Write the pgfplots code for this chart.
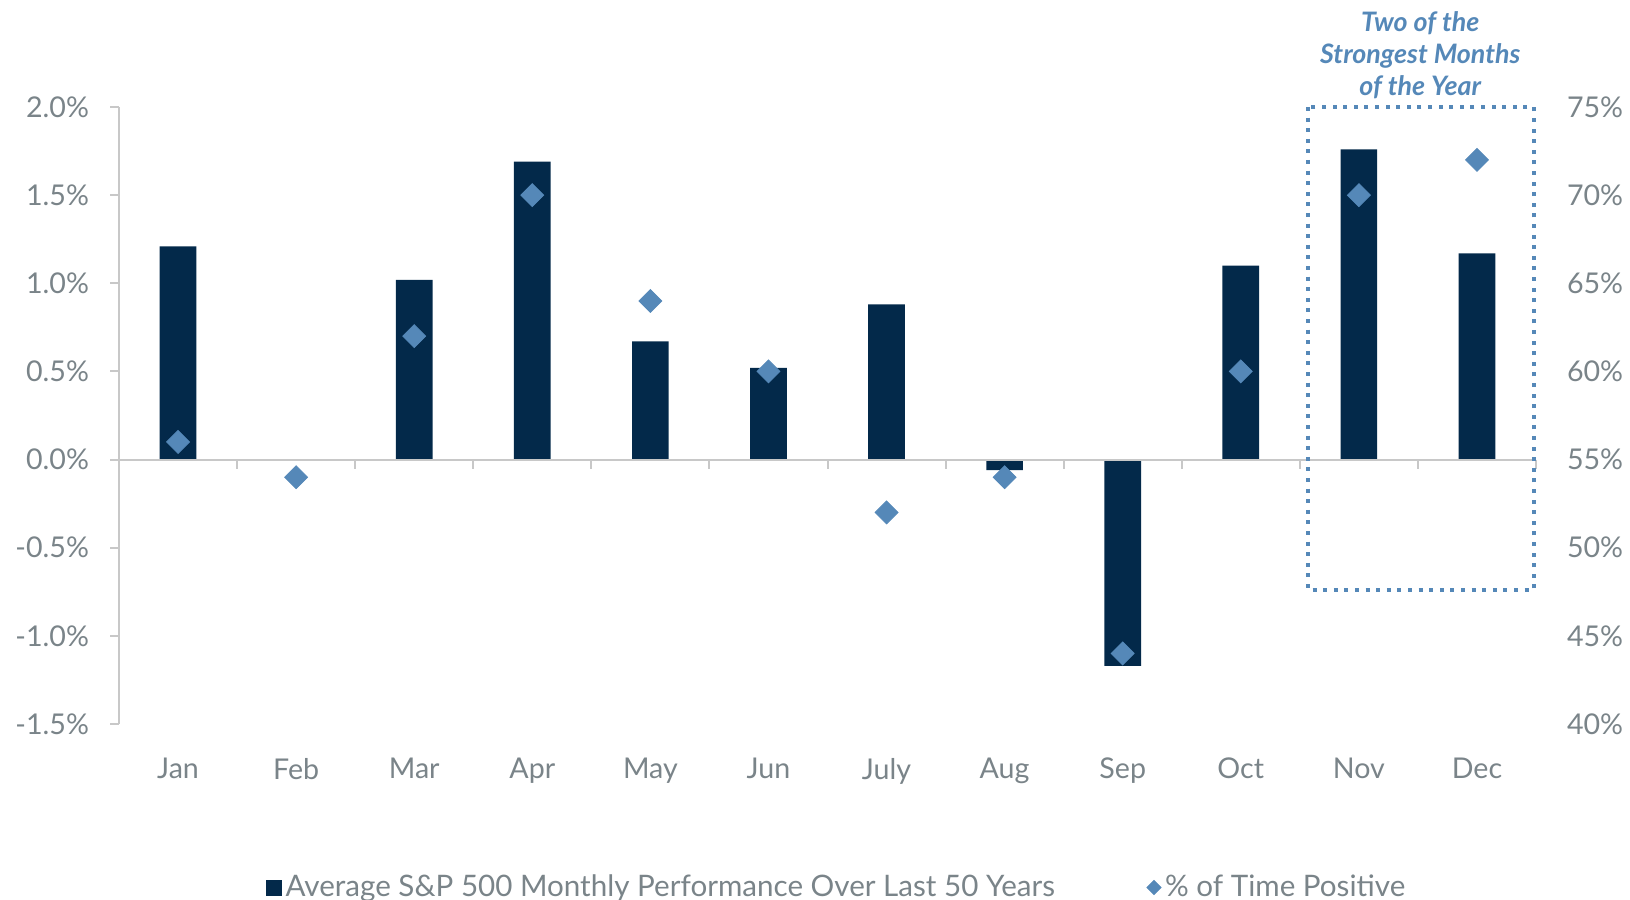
\documentclass[border=0pt]{standalone}
\usepackage{pgfplots}
\pgfplotsset{compat=1.18}
\usepackage{pgfplotstable}
\usepackage{fontspec}
\setmainfont{Lato}
\definecolor{barc}{HTML}{03294A}
\definecolor{dia}{HTML}{5588B8}
\definecolor{tickc}{HTML}{7A8489}
\definecolor{axc}{HTML}{C8C8C8}

\pgfplotstableread{
x perf pos
0 1.21 56
1 0.00 54
2 1.02 62
3 1.69 70
4 0.67 64
5 0.52 60
6 0.88 52
7 -0.06 54
8 -1.17 44
9 1.10 60
10 1.76 70
11 1.17 72
}\data

\begin{document}
\begin{tikzpicture}
\useasboundingbox (-59.5pt,-88pt) rectangle (755.5pt,362pt);
\begin{axis}[
  at={(0,0)}, anchor=south west, scale only axis,
  width=708.5pt, height=308.5pt,
  xmin=-0.5, xmax=11.5, ymin=-1.5, ymax=2,
  clip=false,
  axis y line*=left, axis x line*=bottom,
  x axis line style={draw=none},
  y axis line style={axc, line width=1pt},
  xtick={0,...,11},
  xticklabels={Jan,Feb,Mar,Apr,May,Jun,July,Aug,Sep,Oct,Nov,Dec},
  xtick style={draw=none},
  ytick={-1.5,-1,-0.5,0,0.5,1,1.5,2},
  ytick style={axc, line width=1pt},
  tick align=outside, major tick length=4.5pt,
  /pgf/number format/assume math mode=true,
  yticklabel={\pgfmathprintnumber[fixed,fixed zerofill,precision=1]{\tick}\%},
  ticklabel style={font=\fontsize{14.3}{16}\selectfont, text=tickc},
  xticklabel style={yshift=-9pt},
  yticklabel style={xshift=-7pt},
  legend style={at={(0.507,-0.265)}, anchor=center, draw=none, fill=none,
    legend columns=2, font=\fontsize{14.8}{17}\selectfont, text=tickc,
    /tikz/every even column/.append style={column sep=44pt}},
  legend cell align=left,
]
\addplot[ybar, bar width=0.31, fill=barc, draw=none,
  legend image code/.code={\fill[barc] (0pt,-4pt) rectangle (8pt,4pt);}]
  table[x=x,y=perf]{\data};
\addlegendentry{Average S\&P 500 Monthly Performance Over Last 50 Years}
\addlegendimage{only marks, color=dia, mark=square*, mark size=2.5pt, mark options={rotate=45, fill=dia, draw=dia}}
\addlegendentry{\% of Time Positive}
\draw[axc, line width=1pt] (axis cs:-0.5,0) -- (axis cs:11.5,0);
\pgfplotsinvokeforeach{0.5,1.5,2.5,3.5,4.5,5.5,6.5,7.5,8.5,9.5,10.5,11.5}{
  \draw[axc, line width=1pt] (axis cs:#1,0) -- ++(0pt,-4.5pt);
}
\draw[dia, line width=2pt, dash pattern=on 2pt off 3.3pt]
  (axis cs:9.57,2) rectangle (axis cs:11.48,-0.74);
\node[align=center, anchor=south, inner sep=0pt, yshift=4pt,
  font=\fontsize{13.4}{16}\selectfont\bfseries\itshape, text=dia]
  at (axis cs:10.52,2) {Two of the\\Strongest Months\\of the Year};
\end{axis}
\begin{axis}[
  at={(0,0)}, anchor=south west, scale only axis,
  width=708.5pt, height=308.5pt,
  xmin=-0.5, xmax=11.5, ymin=40, ymax=75,
  clip=false,
  axis y line*=right, axis x line*=bottom,
  x axis line style={draw=none}, y axis line style={draw=none},
  xtick=\empty,
  ytick={40,45,50,55,60,65,70,75},
  ytick style={draw=none},
  /pgf/number format/assume math mode=true,
  yticklabel={\pgfmathprintnumber{\tick}\%},
  ticklabel style={font=\fontsize{14.3}{16}\selectfont, text=tickc},
  yticklabel style={xshift=12pt},
]
\addplot[only marks, color=dia, mark=square*, mark size=4.05pt,
  mark options={rotate=45, fill=dia, draw=dia}]
  table[x=x,y=pos]{\data};
\end{axis}
\end{tikzpicture}
\end{document}
